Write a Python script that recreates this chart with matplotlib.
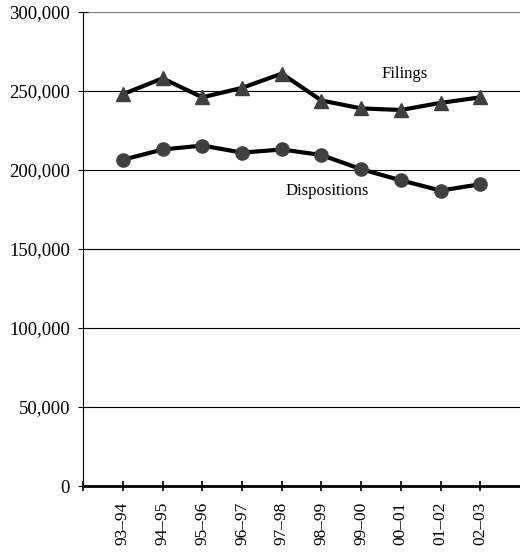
#!/usr/bin/env python3
# -*- coding: utf-8 -*-

import matplotlib
matplotlib.use('Agg')
import matplotlib.pyplot as plt
from matplotlib.ticker import FuncFormatter

plt.rcParams['font.family'] = ['Liberation Serif', 'DejaVu Serif']

# 数据
years = ['93–94', '94–95', '95–96', '96–97', '97–98',
         '98–99', '99–00', '00–01', '01–02', '02–03']
filings = [248000, 258000, 246000, 252000, 261000,
           244000, 239000, 238000, 242500, 246000]
dispositions = [206500, 213000, 215500, 211000, 213000,
                209500, 200500, 193500, 187000, 191000]

fig = plt.figure(figsize=(5.2, 5.54), dpi=100)
ax = fig.add_axes([0.16, 0.1227, 0.84, 0.8556])

x = list(range(1, len(years) + 1))

# 网格线
for y in [50000, 100000, 150000, 200000, 250000]:
    ax.axhline(y, color='black', lw=0.8, zorder=1)
ax.axhline(300000, color='#808080', lw=1.6, zorder=1)

ax.plot(x, filings, color='black', lw=3, marker='^', markersize=10,
        markerfacecolor='#404040', markeredgecolor='#404040', zorder=3, clip_on=False)
ax.plot(x, dispositions, color='black', lw=3, marker='o', markersize=9.5,
        markerfacecolor='#404040', markeredgecolor='#404040', zorder=3, clip_on=False)

ax.text(8.1, 261000, 'Filings', fontsize=12, ha='center', va='center')
ax.text(6.15, 186500, 'Dispositions', fontsize=12, ha='center', va='center')

ax.set_xlim(0, 11)
ax.set_ylim(0, 300000)

ax.set_xticks([0] + x)
ax.set_xticklabels([''] + years, rotation=90, fontsize=12.5)
ax.set_yticks(range(0, 300001, 50000))
ax.yaxis.set_major_formatter(FuncFormatter(lambda v, p: f'{int(v):,}'))
ax.tick_params(axis='y', direction='inout', length=7, width=0.8, labelsize=13.5, pad=6)
ax.tick_params(axis='x', direction='inout', length=7, width=1.2, pad=8)

for s in ['top', 'right']:
    ax.spines[s].set_visible(False)
ax.spines['left'].set_linewidth(0.8)
ax.spines['bottom'].set_linewidth(2)
ax.spines['bottom'].set_zorder(4)

fig.savefig('out.png', dpi=100)
